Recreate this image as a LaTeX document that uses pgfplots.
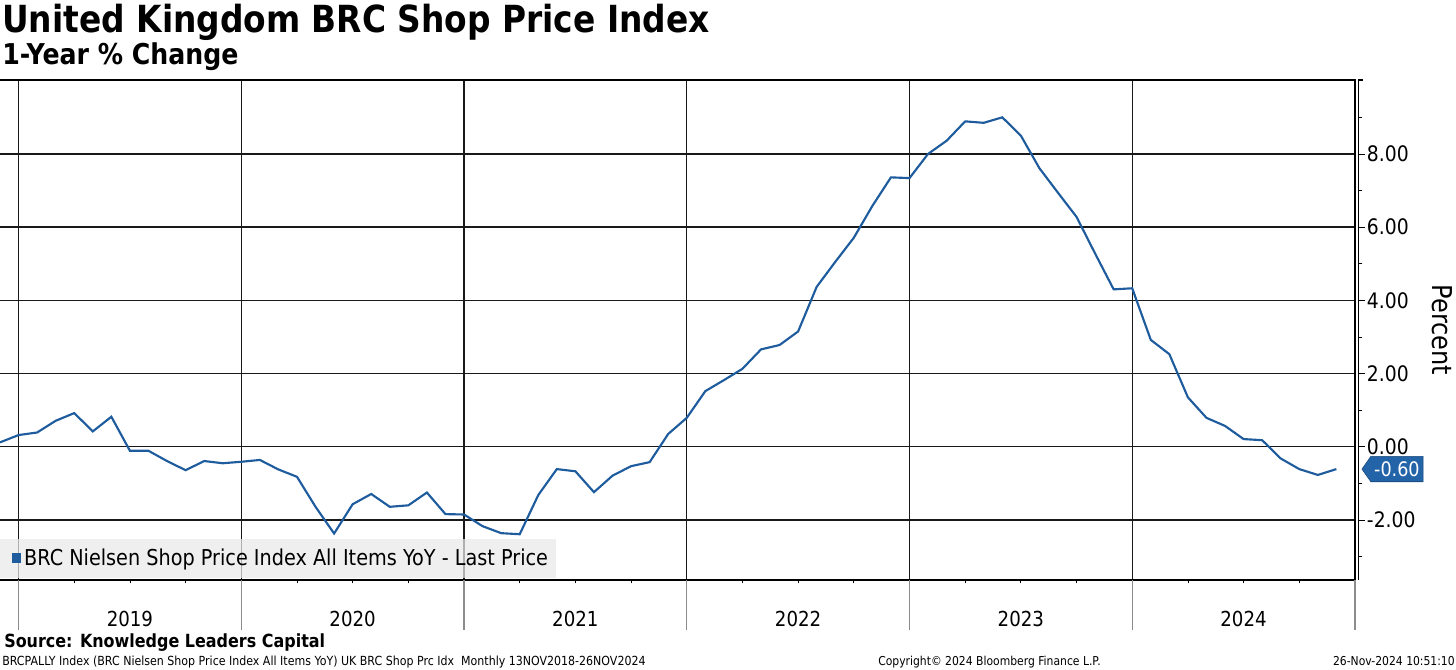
\documentclass[border=0pt]{standalone}
\usepackage{fontspec}
\setmainfont{DejaVu Sans}[FakeStretch=0.88]
\usepackage{pgfplots}
\usepackage{pgfplotstable}
\pgfplotsset{compat=1.18}
\usetikzlibrary{shapes.symbols}
\definecolor{bbblue}{RGB}{30,92,158}
\definecolor{tagblue}{RGB}{35,100,168}
\definecolor{legfill}{RGB}{233,233,233}
\pgfplotstableread{
k v
0 0.12
1 0.32
2 0.39
3 0.71
4 0.92
5 0.42
6 0.82
7 -0.11
8 -0.11
9 -0.39
10 -0.64
11 -0.39
12 -0.45
13 -0.41
14 -0.36
15 -0.62
16 -0.82
17 -1.64
18 -2.37
19 -1.57
20 -1.29
21 -1.64
22 -1.60
23 -1.25
24 -1.84
25 -1.85
26 -2.17
27 -2.36
28 -2.39
29 -1.32
30 -0.61
31 -0.67
32 -1.24
33 -0.79
34 -0.53
35 -0.42
36 0.35
37 0.79
38 1.52
39 1.82
40 2.13
41 2.66
42 2.78
43 3.15
44 4.37
45 5.05
46 5.71
47 6.58
48 7.36
49 7.34
50 8.00
51 8.36
52 8.89
53 8.85
54 9.00
55 8.50
56 7.61
57 6.94
58 6.28
59 5.28
60 4.30
61 4.33
62 2.92
63 2.53
64 1.35
65 0.79
66 0.57
67 0.21
68 0.18
69 -0.32
70 -0.61
71 -0.77
72 -0.61
}\shopdata
\begin{document}
\begin{tikzpicture}[x=0.75pt,y=0.75pt]
\path[use as bounding box] (0,-89) rectangle (1456,580);
\begin{axis}[
  at={(0,0)}, anchor=south west,
  scale only axis, width=1016.25pt, height=375pt,
  xmin=0, xmax=73, ymin=-3.64, ymax=10.02,
  axis line style={draw=none},
  clip=false,
  xtick={1,13,25,37,49,61,73},
  xticklabels={2019,2020,2021,2022,2023,2024,{}},
  xticklabel style={anchor=center, xshift=83.5pt, yshift=-24.5pt, font=\fontsize{15.5}{18}\selectfont},
  minor xtick={4,7,10,16,19,22,28,31,34,40,43,46,52,55,58,64,67,70},
  xtick pos=bottom,
  ytick={-2,0,2,4,6,8},
  minor ytick={-3,-1,1,3,5,7,9},
  ytick pos=right,
  tick align=outside,
  major tick length=4.5pt,
  minor tick length=2.5pt,
  tick style={black, line width=0.6pt},
  ytick style={xshift=3pt},
  yticklabel style={anchor=west, xshift=1pt, font=\fontsize{16}{18}\selectfont},
  /pgf/number format/.cd, fixed, fixed zerofill, precision=2, assume math mode=true,
  /pgfplots/.cd,
  grid=major,
  major grid style={black!90, line width=1pt},
  legend style={at={(axis description cs:0,0)}, anchor=south west, yshift=1.5pt,
    fill=legfill, fill opacity=0.72, text opacity=1, draw=none, font=\fontsize{16.4}{19}\selectfont,
    inner xsep=4pt, inner ysep=5.5pt},
  legend cell align=left,
  legend image code/.code={\path (0pt,0pt); \fill[bbblue, fill opacity=1] (5pt,-2.9pt) rectangle (10.3pt,2.9pt);},
]
\addplot[bbblue, line width=1.6pt, mark=none] table[x=k, y=v] {\shopdata};
\addlegendentry{BRC Nielsen Shop Price Index All Items YoY - Last Price}
\draw[black, line width=0.9pt] (rel axis cs:0,1) -- (rel axis cs:1,1) -- (rel axis cs:1,0) -- (rel axis cs:0,0);
\draw[black, line width=0.8pt] ([xshift=3pt]rel axis cs:1,0) -- ([xshift=3pt]rel axis cs:1,1) -- ([xshift=6pt]rel axis cs:1,1);
\node[signal, signal to=west, signal pointer angle=110, fill=tagblue, draw=tagblue!70!black, line width=0.4pt, text=white,
  font=\fontsize{15}{17}\selectfont, inner xsep=2.5pt, inner ysep=1.5pt, minimum height=19pt, anchor=west, xshift=5pt]
  at (axis cs:73,-0.61) {-0.60};
\end{axis}
\foreach \xx in {18.56,241.3,464.0,686.8,909.5,1132.3,1355.0}{
  \draw[black!45, line width=0.8pt] (\xx,0) -- (\xx,-50);
}
\node[anchor=base west, inner sep=0, font=\bfseries\fontsize{28}{33}\selectfont] at (2,547) {United Kingdom BRC Shop Price Index};
\node[anchor=base west, inner sep=0, font=\bfseries\fontsize{21.5}{25}\selectfont] at (2,516) {1-Year \% Change};
\node[anchor=base west, inner sep=0, font=\bfseries\fontsize{13.6}{16}\selectfont] at (4,-67) {Source: Knowledge Leaders Capital};
\node[anchor=base west, inner sep=0, font=\fontsize{9.4}{11}\selectfont] at (2,-85) {BRCPALLY Index (BRC Nielsen Shop Price Index All Items YoY) UK BRC Shop Prc Idx\ \ Monthly 13NOV2018-26NOV2024};
\node[anchor=base west, inner sep=0, font=\fontsize{9.2}{11}\selectfont] at (878,-85) {Copyright© 2024 Bloomberg Finance L.P.};
\node[anchor=base east, inner sep=0, font=\fontsize{9.2}{11}\selectfont] at (1455,-85) {26-Nov-2024 10:51:10};
\node[rotate=-90, inner sep=0, font=\fontsize{20.5}{24}\selectfont] at (1442,250) {Percent};
\end{tikzpicture}
\end{document}
